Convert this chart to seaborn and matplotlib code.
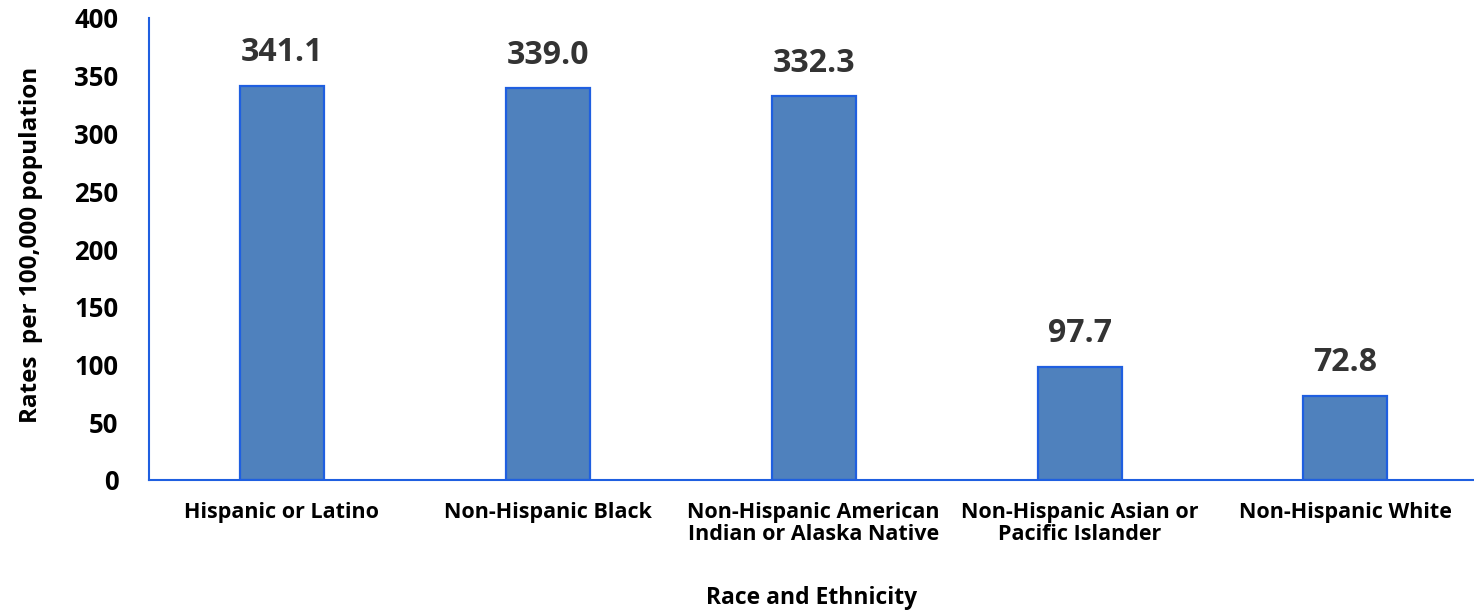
import matplotlib
matplotlib.use("Agg")
import matplotlib.pyplot as plt
import seaborn as sns
import pandas as pd

categories = ["Hispanic or Latino", "Non-Hispanic Black",
              "Non-Hispanic American\nIndian or Alaska Native",
              "Non-Hispanic Asian or\nPacific Islander", "Non-Hispanic White"]
values = [341.1, 339.0, 332.3, 97.7, 72.8]
yticks = [0, 50, 100, 150, 200, 250, 300, 350, 400]

sns.set_theme(style="white")
plt.rcParams['font.family'] = ['Open Sans', 'DejaVu Sans']

df = pd.DataFrame({"cat": categories, "val": values})
fig = plt.figure(figsize=(14.74, 6.12), dpi=100)
ax = fig.add_axes([149/1474, (612-480)/612, 1 - 149/1474 + 0.003, (480-18)/612])

sns.barplot(data=df, x="cat", y="val", ax=ax, color="#4F81BD", saturation=1,
            width=0.316, edgecolor="#1F5FE0", linewidth=1.6)

ax.set_ylim(0, 400)
ax.set_xlim(-0.5, 4.5)
ax.set_yticks(yticks)
ax.set_yticklabels([str(t) for t in yticks], fontsize=18.5, fontweight="bold", color="black")
ax.tick_params(axis="y", length=0, pad=22)
ax.tick_params(axis="x", length=0, pad=16)
for lab in ax.get_xticklabels():
    lab.set_fontsize(15.5)
    lab.set_fontweight("bold")
    lab.set_color("black")
    lab.set_linespacing(1.05)

for s in ["top", "right"]:
    ax.spines[s].set_visible(False)
for s in ["left", "bottom"]:
    ax.spines[s].set_color("#1F5FE0")
    ax.spines[s].set_linewidth(1.5)

for i, v in enumerate(values):
    ax.annotate(f"{v:.1f}", (i, v), xytext=(0, 12), textcoords="offset points",
                ha="center", va="bottom", fontsize=23, fontweight="bold", color="#333333")

ax.set_xlabel("")
ax.set_ylabel("")
fig.text(812/1474, 1 - 598/612, "Race and Ethnicity", ha="center", va="center",
         fontsize=16.5, fontweight="bold", color="black")
fig.text(31/1474, 1 - 245/612, "Rates  per 100,000 population", ha="center", va="center",
         rotation=90, fontsize=17.5, fontweight="bold", color="black")

fig.savefig("out.png", dpi=100)
